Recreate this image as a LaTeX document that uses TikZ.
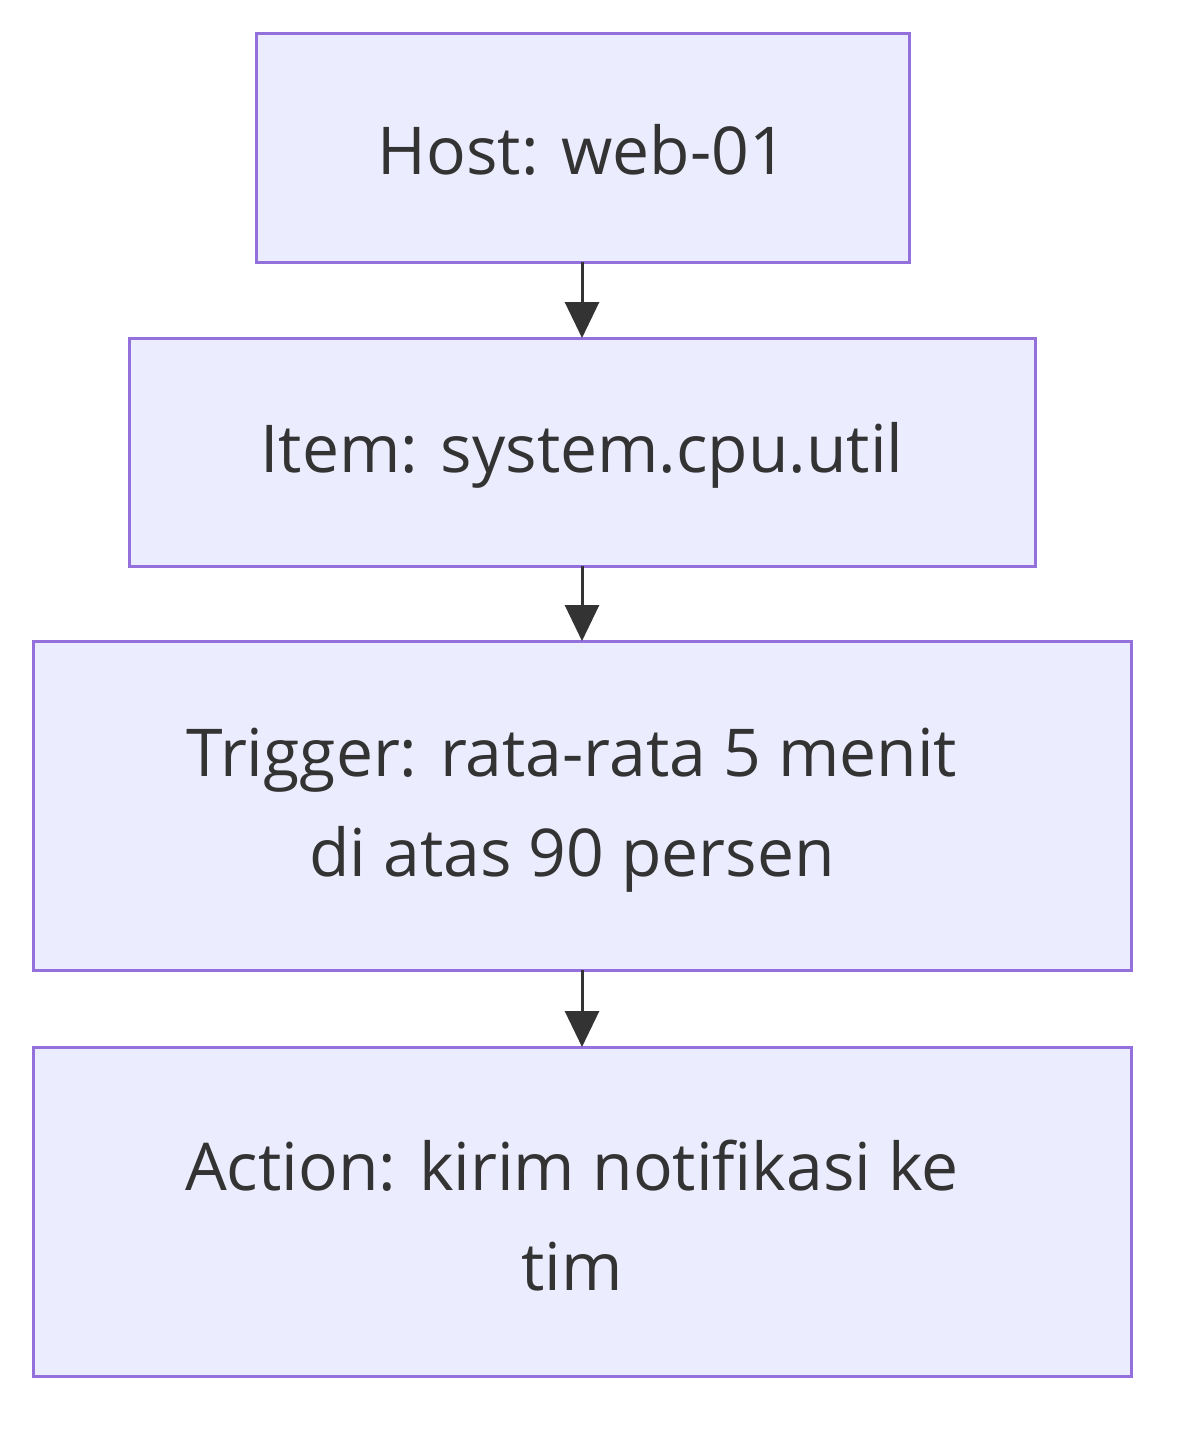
\documentclass[tikz,border=0pt]{standalone}
\usepackage{fontspec}
\setmainfont{Open Sans}
\usetikzlibrary{arrows.meta}
\definecolor{bf}{HTML}{ECECFF}
\definecolor{bs}{HTML}{9370DB}
\definecolor{tx}{HTML}{333333}
\begin{document}
\begin{tikzpicture}[x=0.5pt,y=-0.5pt,
 box/.style={draw=bs,fill=bf,line width=1.5pt},
 lab/.style={text=tx,font=\fontsize{33}{50}\selectfont,align=center},
 arr/.style={draw=tx,line width=1.5pt,-{Triangle[length=18pt,width=17pt]}}]
\useasboundingbox (0,0) rectangle (1200,1452);
\draw[box] (256,33) rectangle (909,262);
\draw[box] (129,338) rectangle (1035,566);
\draw[box] (33,641) rectangle (1131,970);
\draw[box] (33,1047) rectangle (1131,1376);
\node[lab] (n1) at (582.5,150) {Host: web-01};
\node[lab] (n2) at (582,455) {Item: system.cpu.util};
\node[lab] (n3) at (572,810) {Trigger: rata-rata 5 menit\\di atas 90 persen};
\node[lab] (n4) at (572,1216) {Action: kirim notifikasi ke\\tim};
\coordinate (a1) at (582,262); \coordinate (c1) at (582,338);
\coordinate (a2) at (582,566); \coordinate (c2) at (582,641);
\coordinate (a3) at (582,970); \coordinate (c3) at (582,1047);
\draw[arr] (a1) -- (c1);
\draw[arr] (a2) -- (c2);
\draw[arr] (a3) -- (c3);
\end{tikzpicture}
\end{document}
